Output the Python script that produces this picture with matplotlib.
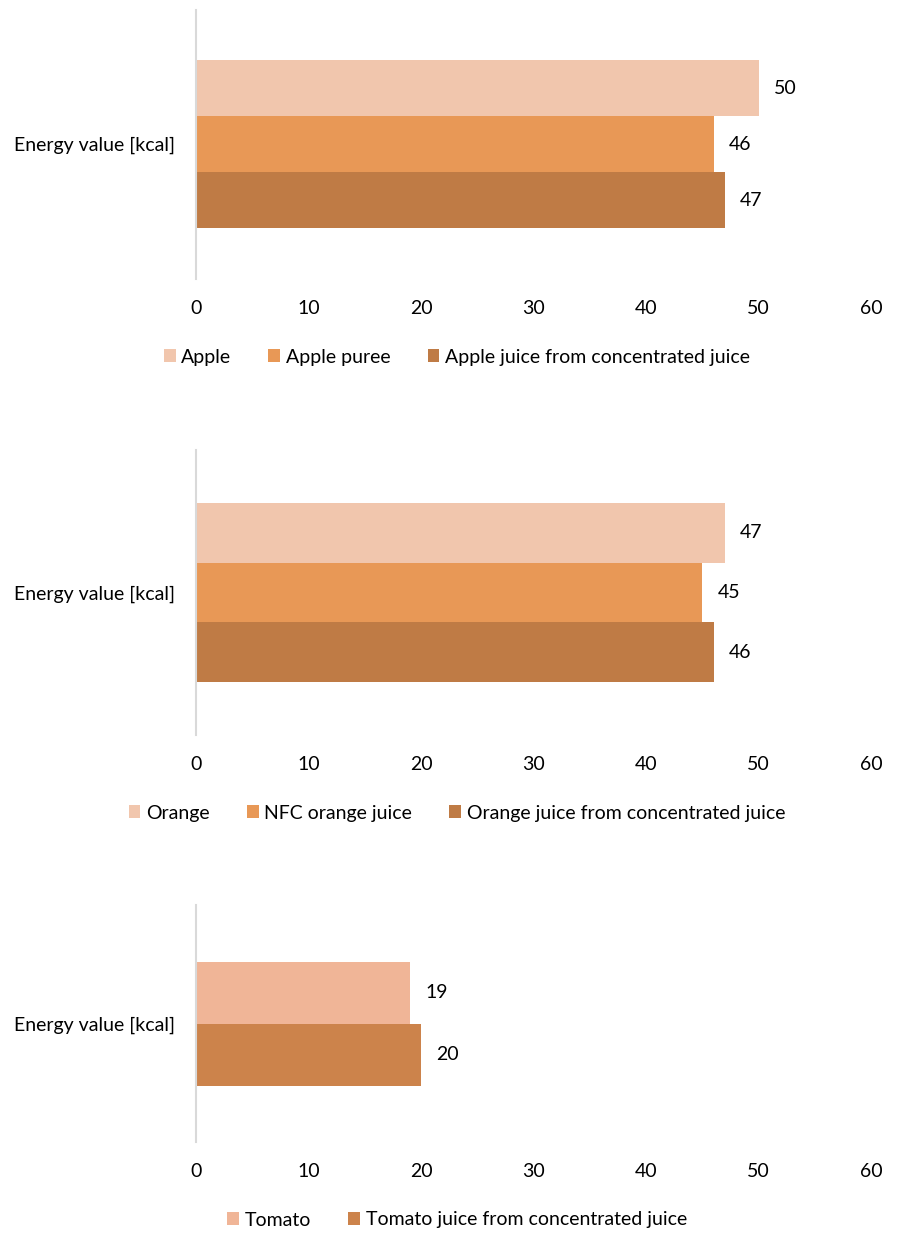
import matplotlib.pyplot as plt
from matplotlib.patches import Patch

plt.rcParams['font.family'] = ['Lato', 'DejaVu Sans']
plt.rcParams['font.size'] = 14

W, H = 899, 1234
fig = plt.figure(figsize=(W / 100, H / 100), dpi=100)

metric = "Energy value [kcal]"

apple_labels = ["Apple", "Apple puree", "Apple juice from concentrated juice"]
apple_values = [50, 46, 47]
apple_colors = ["#F1C6AD", "#E89856", "#BF7B45"]

orange_labels = ["Orange", "NFC orange juice", "Orange juice from concentrated juice"]
orange_values = [47, 45, 46]
orange_colors = ["#F1C6AD", "#E89856", "#BF7B45"]

tomato_labels = ["Tomato", "Tomato juice from concentrated juice"]
tomato_values = [19, 20]
tomato_colors = ["#F0B597", "#CC834B"]

x_ticks = [0, 10, 20, 30, 40, 50, 60]

# pixel layout of each panel: axis top, axis bottom, bar top, bar bottom, legend centre
panels = [
    (apple_labels, apple_values, apple_colors, 10, 279, 60, 228, 357),
    (orange_labels, orange_values, orange_colors, 450, 735, 503, 682, 813),
    (tomato_labels, tomato_values, tomato_colors, 905, 1142, 962, 1086, 1220),
]

x0_px, x1_px = 196, 871

for labels, values, colors, top, bot, btop, bbot, ly in panels:
    n = len(values)
    ax = fig.add_axes([x0_px / W, 1 - bot / H, (x1_px - x0_px) / W, (bot - top) / H])
    pos = list(range(n))
    bars = ax.barh(pos, values, height=1.0, color=colors)
    unit = (bbot - btop) / n
    ax.set_ylim(n - 0.5 + (bot - bbot) / unit, -0.5 - (btop - top) / unit)
    ax.set_xlim(0, 60)
    ax.set_xticks(x_ticks)
    ax.set_yticks([(n - 1) / 2])
    ax.set_yticklabels([metric])
    ax.tick_params(axis='x', length=0, pad=15)
    ax.tick_params(axis='y', length=0, pad=15)
    for s in ('top', 'right', 'bottom'):
        ax.spines[s].set_visible(False)
    ax.spines['left'].set_color('#D9D9D9')
    ax.spines['left'].set_linewidth(1.5)
    ax.bar_label(bars, labels=[str(v) for v in values], padding=11)
    handles = [Patch(facecolor=c, edgecolor='none') for c in colors]
    fig.legend(handles, labels, loc='center', bbox_to_anchor=(457 / W, 1 - ly / H),
               ncol=n, frameon=False, handlelength=0.6, handleheight=0.6,
               handletextpad=0.3, columnspacing=1.9)

fig.savefig("out.png", dpi=100)
